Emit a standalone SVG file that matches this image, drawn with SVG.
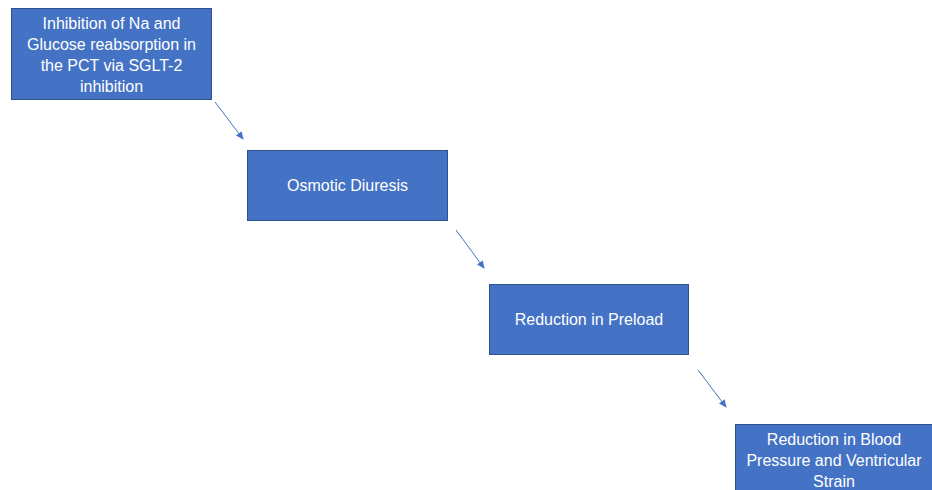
<svg xmlns="http://www.w3.org/2000/svg" width="932" height="490" viewBox="0 0 932 490">
<style>
.box{fill:#4472C4;stroke:#2F528F;stroke-width:1}
.t{font-family:"Liberation Sans",Arial,sans-serif;font-size:16px;fill:#FFFFFF;text-anchor:middle}
.c{stroke:#4472C4;stroke-width:1;fill:none}
</style>
<defs>
<marker id="ah" markerWidth="8" markerHeight="8" refX="7" refY="4" orient="auto" markerUnits="userSpaceOnUse">
<path d="M0,0.5 L8,4 L0,7.5 Z" fill="#4472C4"/>
</marker>
</defs>
<rect width="932" height="490" fill="#FFFFFF"/>
<g id="connectors">
<line class="c" x1="215" y1="102" x2="243" y2="139" marker-end="url(#ah)"/>
<line class="c" x1="456" y1="230" x2="484" y2="268" marker-end="url(#ah)"/>
<line class="c" x1="698" y1="370" x2="726" y2="407" marker-end="url(#ah)"/>
</g>
<g id="node1">
<rect class="box" x="11.5" y="8.5" width="200" height="91"/>
<text class="t" x="111.5" y="29">Inhibition of Na and</text>
<text class="t" x="111.5" y="50">Glucose reabsorption in</text>
<text class="t" x="111.5" y="71">the PCT via SGLT-2</text>
<text class="t" x="111.5" y="92">inhibition</text>
</g>
<g id="node2">
<rect class="box" x="247.5" y="150.5" width="200" height="70"/>
<text class="t" x="347.5" y="191">Osmotic Diuresis</text>
</g>
<g id="node3">
<rect class="box" x="489.5" y="284.5" width="199" height="70"/>
<text class="t" x="589" y="325">Reduction in Preload</text>
</g>
<g id="node4">
<rect class="box" x="735.5" y="424.5" width="199" height="70"/>
<text class="t" x="834" y="445">Reduction in Blood</text>
<text class="t" x="834" y="466">Pressure and Ventricular</text>
<text class="t" x="834" y="487">Strain</text>
</g>
</svg>
